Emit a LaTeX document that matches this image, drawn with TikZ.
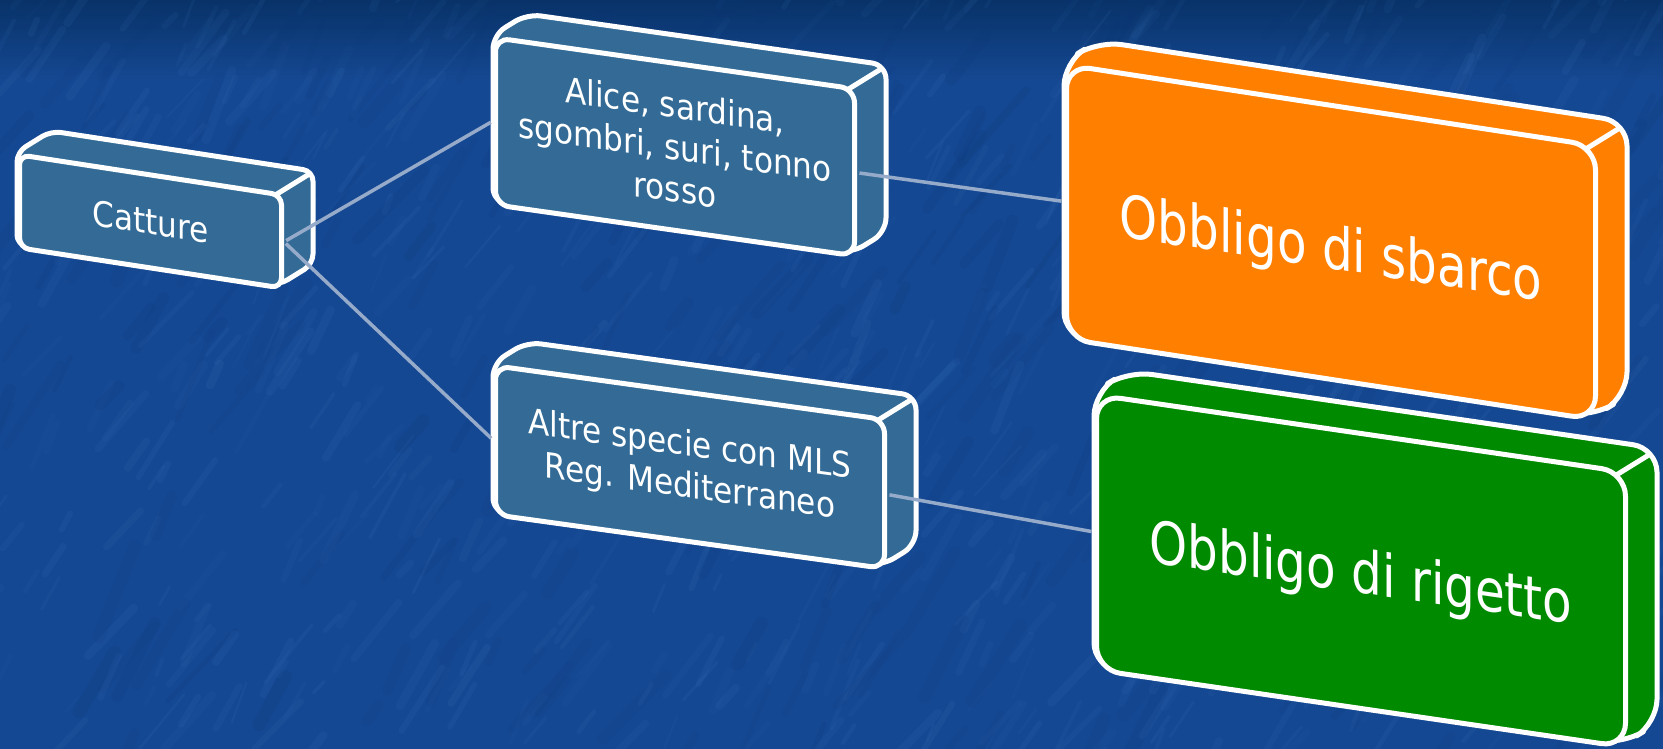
\documentclass[tikz,border=0pt]{standalone}
\usepackage{fontspec}
\setmainfont{DejaVu Sans}
\newfontfamily\smallfont{DejaVu Sans}[FakeStretch=0.89]
\newfontfamily\bigfont{DejaVu Sans}[FakeStretch=0.82]
\definecolor{bgblue}{RGB}{21,72,146}
\definecolor{bgtop}{RGB}{8,50,104}
\definecolor{texlight}{RGB}{80,140,210}
\definecolor{texdark}{RGB}{10,52,115}
\definecolor{boxblue}{RGB}{51,107,150}
\definecolor{boxorange}{RGB}{255,127,0}
\definecolor{boxgreen}{RGB}{0,138,0}
\definecolor{linkcol}{RGB}{150,170,202}
\tikzset{
  boxline/.style={draw=white, line width=5pt, line join=round},
  frontface/.style={rectangle, draw=white, line width=5pt, text=white, align=center, inner sep=0pt, transform shape},
  smallbox/.style={fill=boxblue, font=\smallfont\fontsize{35}{42}\selectfont},
  orangebox/.style={fill=boxorange, font=\bigfont\fontsize{59}{68}\selectfont},
  greenbox/.style={fill=boxgreen, font=\bigfont\fontsize{59}{68}\selectfont},
  link/.style={draw=linkcol, line width=3.5pt, shorten <=2.5pt, shorten >=2.5pt},
}
% #1 name, #2 x of front left, #3 y of front top (image px), #4 width, #5 height,
% #6 slope, #7 corner radius, #8 style, #9 text
\newcommand\threedbox[9]{%
  \begin{scope}[shift={(#2,#3)}, yslant=-#6]
    \pgfmathsetmacro\tbvd{-21-34*#6}
    \pgfmathsetmacro\tbwd{#4+34}
    \pgfmathsetmacro\tbhd{#5+\tbvd}
    \pgfmathsetmacro\tbc{0.29*#7}
    \path[boxline, #8, rounded corners=#7pt] (0,0) -- (34,\tbvd) -- (\tbwd,\tbvd)
      -- (\tbwd,\tbhd) -- (#4,#5) -- (0,#5) -- cycle;
    \coordinate (#1c1) at ({#4-\tbc},\tbc);
    \coordinate (#1c2) at ({\tbwd-\tbc},{\tbvd+\tbc});
    \draw[boxline] (#1c1) -- (#1c2);
    \node[frontface, #8, rounded corners=#7pt, minimum width=#4pt,
      minimum height=#5pt, anchor=north west] (#1) at (0,0) {#9};
  \end{scope}}
\newcommand\lowered[2]{\raisebox{-#1pt}[\height][\depth]{#2}}
\begin{document}
\begin{tikzpicture}[x=1pt,y=-1pt]
\useasboundingbox (0,0) rectangle (1663,749);
\begin{scope}
\clip (0,0) rectangle (1663,749);
\fill[bgblue] (0,0) rectangle (1663,749);
\shade[top color=bgtop, bottom color=bgblue] (0,0) rectangle (1663,80);
\pgfmathsetseed{17}
\foreach \i in {1,...,700} {
  \pgfmathsetmacro\xx{rnd*1700-20}
  \pgfmathsetmacro\yy{rnd*780-10}
  \pgfmathsetmacro\ll{15+rnd*60}
  \pgfmathsetmacro\aa{-45-rnd*25}
  \pgfmathsetmacro\op{0.03+rnd*0.06}
  \pgfmathsetmacro\lw{2+rnd*7}
  \draw[texlight, opacity=\op, line width=\lw pt, line cap=round] (\xx,\yy) -- ++(\aa:\ll);
}
\foreach \i in {1,...,300} {
  \pgfmathsetmacro\xx{rnd*1700-20}
  \pgfmathsetmacro\yy{rnd*780-10}
  \pgfmathsetmacro\ll{20+rnd*80}
  \pgfmathsetmacro\aa{-45-rnd*25}
  \pgfmathsetmacro\op{0.05+rnd*0.08}
  \pgfmathsetmacro\lw{4+rnd*10}
  \draw[texdark, opacity=\op, line width=\lw pt, line cap=round] (\xx,\yy) -- ++(\aa:\ll);
}
\end{scope}
\threedbox{E}{1094}{392}{529}{275}{0.146}{24}{greenbox}{\lowered{6}{Obbligo di rigetto}}
\threedbox{D}{1064}{62}{529}{274}{0.153}{24}{orangebox}{\lowered{10}{Obbligo di sbarco}}
\threedbox{A}{17}{152}{262}{93}{0.153}{10}{smallbox}{Catture}
\threedbox{B}{493}{35}{359}{167}{0.142}{14}{smallbox}{Alice, sardina,\\sgombri, suri, tonno\\rosso}
\threedbox{C}{493}{363}{389}{149}{0.138}{14}{smallbox}{Altre specie con MLS\\Reg. Mediterraneo}
\draw[link] (A.east) -- (B.west);
\draw[link] (A.east) -- (C.west);
\draw[link] (B.east) -- (D.west);
\draw[link] (C.east) -- (E.west);
\end{tikzpicture}
\end{document}
